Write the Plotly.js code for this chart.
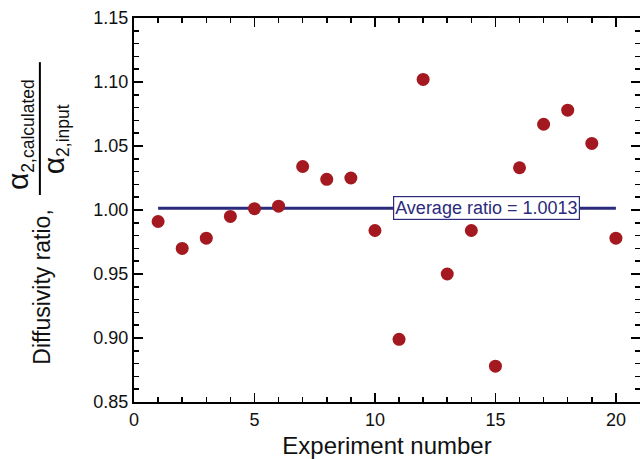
<!DOCTYPE html>
<html>
<head>
<meta charset="utf-8">
<script src="https://cdn.plot.ly/plotly-3.0.1.min.js"></script>
<style>html,body{margin:0;padding:0;background:#fff;}#chart{width:640px;height:459px;}</style>
</head>
<body>
<div id="chart"></div>
<script>
const experiments = [1,2,3,4,5,6,7,8,9,10,11,12,13,14,15,16,17,18,19,20];
const ratios = [0.991,0.970,0.978,0.995,1.001,1.003,1.034,1.024,1.025,0.984,0.899,1.102,0.950,0.984,0.878,1.033,1.067,1.078,1.052,0.978];
const averageRatio = 1.0013;
const averageX = [1, 20];
const averageLabel = 'Average ratio = 1.0013';
const xTickVals = [0,5,10,15,20];
const yTickVals = [0.85,0.90,0.95,1.00,1.05,1.10,1.15];
const yTickText = ['0.85','0.90','0.95','1.00','1.05','1.10','1.15'];

const FONT = 'Liberation Sans, Arial, sans-serif';
const NAVY = '#2b2a7c';

const traces = [
  {x: averageX, y: [averageRatio, averageRatio], mode: 'lines', type: 'scatter',
   line: {color: NAVY, width: 3}, hoverinfo: 'skip', showlegend: false},
  {x: experiments, y: ratios, mode: 'markers', type: 'scatter',
   marker: {color: '#a3191f', size: 13}, showlegend: false}
];

const layout = {
  width: 640, height: 459,
  margin: {l: 134, r: 0, t: 18, b: 57},
  paper_bgcolor: '#fff', plot_bgcolor: '#fff',
  font: {family: FONT, size: 18, color: '#111'},
  xaxis: {
    range: [0, 21], tickvals: xTickVals,
    showgrid: false, zeroline: false, showline: true, linewidth: 2, linecolor: '#000',
    mirror: 'allticks', ticks: 'inside', ticklen: 9, tickwidth: 1.5, tickcolor: '#000',
    minor: {dtick: 1, tick0: 0, ticks: 'inside', ticklen: 5, tickwidth: 1.5, tickcolor: '#000', showgrid: false},
    tickfont: {size: 18, family: FONT},
    title: {text: 'Experiment number', font: {size: 24, family: FONT}, standoff: 9}
  },
  yaxis: {
    range: [0.85, 1.15], tickvals: yTickVals, ticktext: yTickText,
    showgrid: false, zeroline: false, showline: true, linewidth: 2, linecolor: '#000',
    mirror: 'allticks', ticks: 'inside', ticklen: 9, tickwidth: 1.5, tickcolor: '#000',
    minor: {dtick: 0.01, tick0: 0.85, ticks: 'inside', ticklen: 5, tickwidth: 1.5, tickcolor: '#000', showgrid: false},
    tickfont: {size: 18, family: FONT}
  },
  annotations: [
    {text: averageLabel, x: 14.63, y: averageRatio, xref: 'x', yref: 'y', yshift: 0, showarrow: false,
     font: {size: 18, color: NAVY, family: FONT}, bgcolor: '#fff', bordercolor: NAVY, borderwidth: 1.2, borderpad: 1},
    {text: 'Diffusivity ratio,', textangle: -90, xref: 'paper', yref: 'paper',
     x: -0.182, y: 0.300, xanchor: 'center', yanchor: 'middle', showarrow: false,
     font: {size: 23, family: FONT}},
    {text: '<span style="font-size:30px">α</span><sub>2,calculated</sub>', textangle: -90, xref: 'paper', yref: 'paper',
     x: -0.226, y: 0.697, xanchor: 'center', yanchor: 'middle', showarrow: false,
     font: {size: 25, family: FONT}},
    {text: '<span style="font-size:30px">α</span><sub>2,input</sub>', textangle: -90, xref: 'paper', yref: 'paper',
     x: -0.157, y: 0.683, xanchor: 'center', yanchor: 'middle', showarrow: false,
     font: {size: 25, family: FONT}}
  ],
  shapes: [
    {type: 'line', xref: 'paper', yref: 'paper', x0: -0.186, x1: -0.186, y0: 0.539, y1: 0.885,
     line: {color: '#000', width: 2}}
  ]
};

Plotly.newPlot('chart', traces, layout, {displayModeBar: false, staticPlot: true});
</script>
</body>
</html>
